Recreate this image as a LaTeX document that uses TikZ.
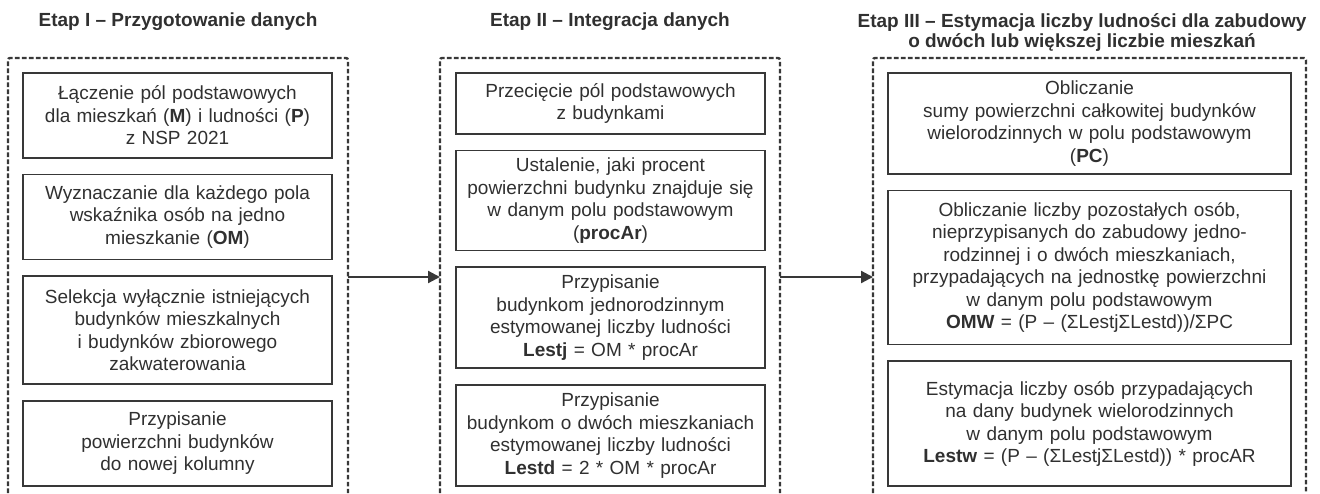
\documentclass[tikz,border=0pt]{standalone}
\usepackage{fontspec}
\setmainfont{Liberation Sans}
\usetikzlibrary{arrows.meta, positioning}
\definecolor{ink}{HTML}{303030}
\definecolor{frame}{HTML}{383838}

\begin{document}
\begin{tikzpicture}[x=0.5pt, y=-0.5pt]
	\tikzset{node distance=7.5pt, every node/.style={font=\fontsize{9.5}{11.25}\selectfont, text=ink},
		box/.style={draw=frame, line width=0.85pt, align=center, inner sep=0pt, anchor=north},
		colI/.style={box, text width=154.5pt}, colIII/.style={box, text width=201.5pt},
		stage/.style={draw=frame, line width=1.2pt, dash pattern=on 2.3pt off 1.2pt, rounded corners=1pt},
		title/.style={font=\bfseries\fontsize{9.5}{10}\selectfont, align=center},
		flow/.style={draw=frame, line width=1.1pt, -{Triangle[length=6pt, width=6pt]}} }

	\useasboundingbox (0,0) rectangle (1320,493);

	\node[title] (t1) at (178,22) {Etap I – Przygotowanie danych};
	\node[title] (t2) at (610,22) {Etap II – Integracja danych};
	\node[title] (t3) at (1082,33) {Etap III – Estymacja liczby ludności dla zabudowy\\o dwóch lub większej liczbie mieszkań};

	\draw[stage] (8,493) -- (8,58) -- (348,58) -- (348,493);
	\draw[stage] (440,493) -- (440,58) -- (780,58) -- (780,493);
	\draw[stage] (873,493) -- (873,58) -- (1306,58) -- (1306,493);

	\node[colI, minimum height=42.5pt] (p1) at (177.5,72) {Łączenie pól podstawowych\\dla mieszkań (\textbf{M}) i ludności (\textbf{P})\\z NSP 2021};
	\node[colI, minimum height=42.5pt, below=of p1] (p2) {Wyznaczanie dla każdego pola\\wskaźnika osób na jedno\\mieszkanie (\textbf{OM})};
	\node[colI, minimum height=54pt, below=of p2] (p3) {Selekcja wyłącznie istniejących\\budynków mieszkalnych\\i budynków zbiorowego\\zakwaterowania};
	\node[colI, minimum height=42.5pt, below=of p3] (p4) {Przypisanie\\powierzchni budynków\\do nowej kolumny};

	\node[colI, minimum height=30.5pt] (i1) at (610.5,72) {Przecięcie pól podstawowych\\z budynkami};
	\node[colI, minimum height=50pt, below=of i1] (i2) {Ustalenie, jaki procent\\powierzchni budynku znajduje się\\w danym polu podstawowym\\(\textbf{procAr})};
	\node[colI, minimum height=50.5pt, below=of i2] (i3) {Przypisanie\\budynkom jednorodzinnym\\estymowanej liczby ludności\\\textbf{Lestj} = OM * procAr};
	\node[colI, minimum height=50.5pt, below=of i3] (i4) {Przypisanie\\budynkom o dwóch mieszkaniach\\estymowanej liczby ludności\\\textbf{Lestd} = 2 * OM * procAr};

	\node[colIII, minimum height=50.5pt] (e1) at (1089.5,72) {Obliczanie\\sumy powierzchni całkowitej budynków\\wielorodzinnych w polu podstawowym\\(\textbf{PC})};
	\node[colIII, minimum height=77pt, below=of e1] (e2) {Obliczanie liczby pozostałych osób,\\nieprzypisanych do zabudowy jedno-\\rodzinnej i o dwóch mieszkaniach,\\przypadających na jednostkę powierzchni\\w danym polu podstawowym\\\textbf{OMW} = (P – (ΣLestjΣLestd))/ΣPC};
	\node[colIII, minimum height=62.5pt, below=of e2] (e3) {Estymacja liczby osób przypadających\\na dany budynek wielorodzinnych\\w danym polu podstawowym\\\textbf{Lestw} = (P – (ΣLestjΣLestd)) * procAR};

	\coordinate (s1e) at (348,277);
	\coordinate (s2w) at (440,277);
	\coordinate (s2e) at (780,277);
	\coordinate (s3w) at (873,277);
	\draw[flow] (s1e) -- (s2w);
	\draw[flow] (s2e) -- (s3w);
\end{tikzpicture}
\end{document}
